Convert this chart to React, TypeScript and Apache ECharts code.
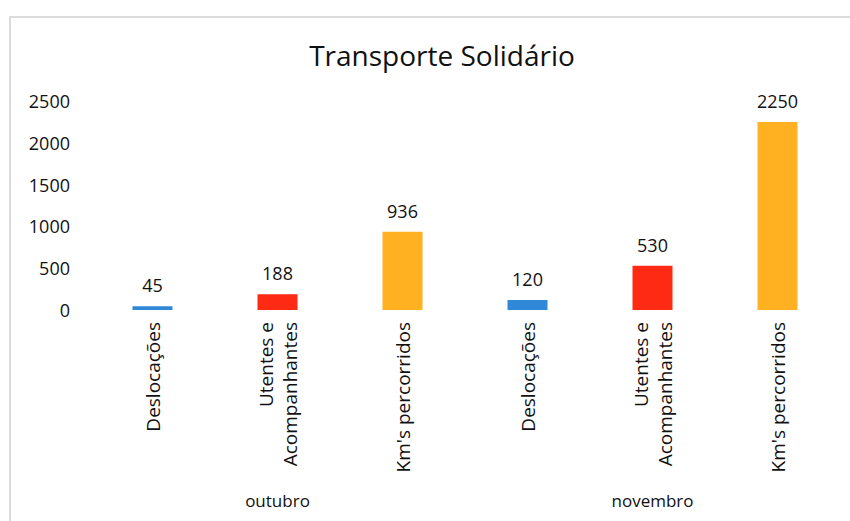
import React, { useEffect, useRef } from "react";
import * as echarts from "echarts";

const categories = [
  "Deslocações",
  "Utentes e\nAcompanhantes",
  "Km's percorridos",
  "Deslocações",
  "Utentes e\nAcompanhantes",
  "Km's percorridos",
];
const months = ["outubro", "novembro"];
const values = [45, 188, 936, 120, 530, 2250];
const barColors = ["#2f88d8", "#ff2a14", "#ffb121", "#2f88d8", "#ff2a14", "#ffb121"];
const yTicks = { min: 0, max: 2500, interval: 500 };

const FONT = "Open Sans";

export default function App() {
  const ref = useRef<HTMLDivElement>(null);
  useEffect(() => {
    document.body.style.margin = "0";
    const chart = echarts.init(ref.current!, null, { renderer: "svg" });
    chart.setOption({
      animation: false,
      backgroundColor: "#ffffff",
      title: {
        text: "Transporte Solidário",
        left: 437,
        textAlign: "center",
        top: 36,
        textStyle: { fontFamily: FONT, fontSize: 28, fontWeight: "normal", color: "#111" },
      },
      graphic: [
        {
          type: "rect",
          shape: { x: 10, y: 17, width: 845, height: 520 },
          style: { fill: "none", stroke: "#dcdcdc", lineWidth: 2 },
          silent: true,
        },
      ],
      grid: { left: 90, right: 10, top: 101, bottom: 211 },
      xAxis: [
        {
          type: "category",
          data: categories,
          axisLine: { show: false },
          axisTick: { show: false },
          axisLabel: {
            rotate: 90,
            interval: 0,
            margin: 12,
            fontFamily: FONT,
            fontSize: 19,
            lineHeight: 24,
            color: "#111",
          },
        },
        {
          type: "category",
          data: months,
          position: "bottom",
          offset: 182,
          axisLine: { show: false },
          axisTick: { show: false },
          axisLabel: { margin: 0, fontFamily: FONT, fontSize: 17, color: "#111" },
        },
      ],
      yAxis: {
        type: "value",
        min: yTicks.min,
        max: yTicks.max,
        interval: yTicks.interval,
        axisLine: { show: false },
        axisTick: { show: false },
        splitLine: { show: false },
        axisLabel: {
          fontFamily: FONT,
          fontSize: 18,
          color: "#111",
          margin: 20,
          formatter: (v: number) => String(v),
        },
      },
      series: [
        {
          type: "bar",
          xAxisIndex: 0,
          barWidth: 40,
          data: values.map((v, i) => ({ value: v, itemStyle: { color: barColors[i] } })),
          label: {
            show: true,
            position: "top",
            distance: 12,
            fontFamily: FONT,
            fontSize: 18,
            color: "#111",
          },
        },
      ],
    });
    return () => chart.dispose();
  }, []);
  return <div ref={ref} style={{ width: 850, height: 521 }} />;
}
